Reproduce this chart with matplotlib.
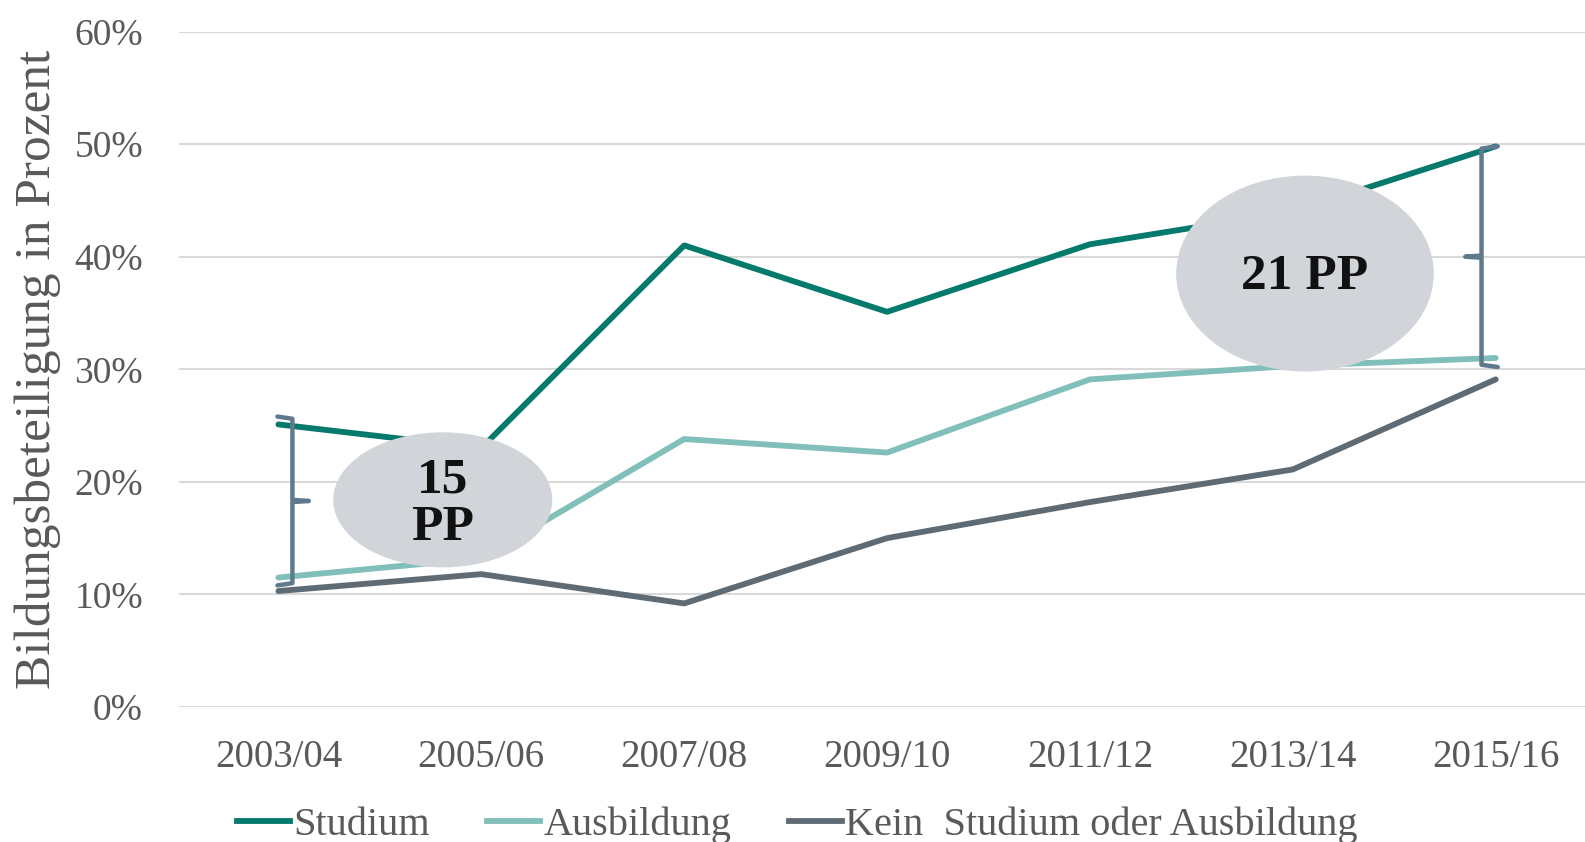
import matplotlib
matplotlib.use("Agg")
import matplotlib.pyplot as plt
from matplotlib.patches import Ellipse
from matplotlib.lines import Line2D

years = ["2003/04", "2005/06", "2007/08", "2009/10", "2011/12", "2013/14", "2015/16"]
studium = [25.1, 23.0, 41.0, 35.1, 41.1, 44.0, 49.8]
ausbildung = [11.5, 13.2, 23.8, 22.6, 29.1, 30.3, 31.0]
kein = [10.3, 11.8, 9.2, 15.0, 18.2, 21.1, 29.1]
series_names = ["Studium", "Ausbildung", "Kein  Studium oder Ausbildung"]
colors = ["#037a6b", "#80bfba", "#5e6b74"]
yticks = [0, 10, 20, 30, 40, 50, 60]
ytick_labels = ["0%", "10%", "20%", "30%", "40%", "50%", "60%"]
gap_labels = ["15\nPP", "21 PP"]

plt.rcParams["font.family"] = ["Liberation Serif", "DejaVu Serif"]
W, H = 1585, 842
fig = plt.figure(figsize=(W / 100, H / 100), dpi=100)
ax = fig.add_axes([179 / W, (H - 707) / H, 1 - 179 / W, (707 - 31.5) / H])

x = list(range(len(years)))
for vals, c, name in zip([studium, ausbildung, kein], colors, series_names):
    ax.plot(x, vals, color=c, lw=4.2, solid_capstyle="round", label=name, zorder=3)

ax.set_ylim(0, 60)
ax.set_xlim(-0.49, 6.44)
ax.set_yticks(yticks)
ax.set_yticklabels(ytick_labels)
ax.set_xticks(x)
ax.set_xticklabels(years)
ax.tick_params(axis="both", length=0, labelcolor="#595959")
ax.tick_params(axis="y", pad=26, labelsize=27)
ax.tick_params(axis="x", pad=23, labelsize=28)
ax.grid(axis="y", color="#d9d9d9", lw=1.5, zorder=0)
for s in ax.spines.values():
    s.set_visible(False)

bc = "#5f7a8d"
# left bracket "}"
lx, lhook, ltick = 0.069, -0.005, 0.15
ax.plot([lhook, lx, lx, ltick, lx, lx, lhook],
        [25.8, 25.6, 18.4, 18.3, 18.2, 11.0, 10.8],
        color=bc, lw=3.2, solid_joinstyle="round", solid_capstyle="round", zorder=4)
# right bracket "{"
rx, rhook, rtick = 5.93, 6.01, 5.85
ax.plot([rhook, rx, rx, rtick, rx, rx, rhook],
        [49.8, 49.6, 40.1, 40.0, 39.9, 30.4, 30.2],
        color=bc, lw=3.2, solid_joinstyle="round", solid_capstyle="round", zorder=4)

ell_fc = "#d1d5d9"
ax.add_patch(Ellipse((0.81, 18.4), 1.08, 12.0, facecolor=ell_fc, edgecolor="none", zorder=5))
ax.add_patch(Ellipse((5.06, 38.5), 1.27, 17.4, facecolor=ell_fc, edgecolor="none", zorder=5))
ax.text(0.81, 18.0, gap_labels[0], ha="center", va="center", fontsize=37,
        fontweight="bold", color="#111111", linespacing=1.05, zorder=6)
ax.text(5.06, 38.2, gap_labels[1], ha="center", va="center", fontsize=37,
        fontweight="bold", color="#111111", zorder=6)

fig.text(38 / W, 1 - 369 / H, "Bildungsbeteiligung in Prozent", rotation=90,
         ha="center", va="center", fontsize=37, color="#595959")

handles = [Line2D([0], [0], color=c, lw=4.2) for c in colors]
leg = fig.legend(handles, series_names, loc="center left",
                 bbox_to_anchor=(237 / W, 1 - 825 / H), ncol=3, frameon=False,
                 fontsize=29, handlelength=1.32, handletextpad=0.08,
                 columnspacing=1.42, borderpad=0, borderaxespad=0)
for t in leg.get_texts():
    t.set_color("#595959")

fig.savefig("out.png", dpi=100)
